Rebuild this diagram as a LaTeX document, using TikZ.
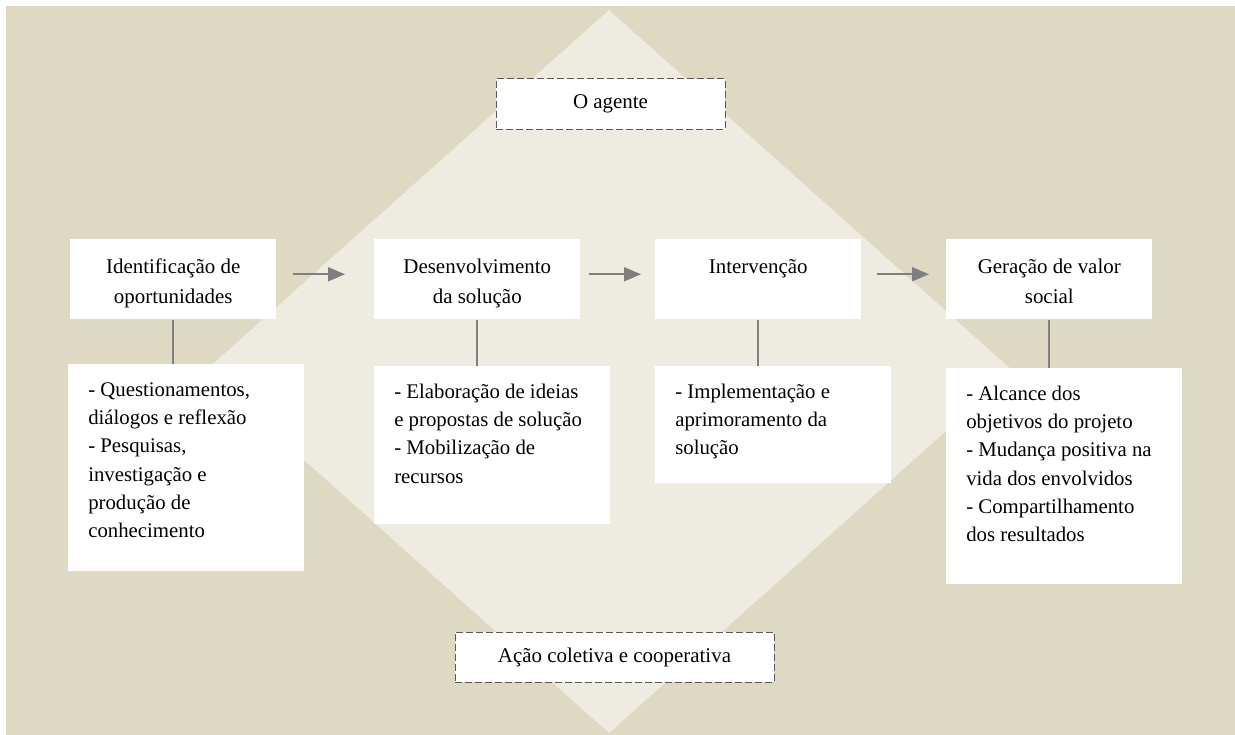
\documentclass[tikz,border=0pt]{standalone}
\usepackage{fontspec}
\setmainfont{Liberation Serif}
\usetikzlibrary{arrows.meta}

\definecolor{tanbg}{HTML}{DDD9C3}
\definecolor{tanlight}{HTML}{EEECE1}
\definecolor{linkgray}{HTML}{7F7F7F}
\definecolor{dashgray}{HTML}{595959}

\tikzset{
  stagebox/.style={fill=white, anchor=north west, inner ysep=0pt, inner xsep=7.5pt,
    text width=139.5pt, align=flush center, text height=26pt, text depth=34pt,
    font=\fontsize{15.7}{22.5}\selectfont},
  detailbox/.style={fill=white, anchor=north west, inner ysep=0pt, inner xsep=15pt,
    text width=147pt, align=flush left, text height=24pt,
    font=\fontsize{15.6}{21.25}\selectfont},
  agentbox/.style={fill=white, draw=dashgray, dash pattern=on 5pt off 2.5pt,
    line width=0.75pt, minimum height=37.5pt, font=\fontsize{15.7}{20}\selectfont},
  flowarrow/.style={draw=linkgray, line width=1.6pt, -{Triangle[length=12.75pt,width=10.5pt]}},
  linkline/.style={draw=linkgray, line width=1.3pt},
}

\begin{document}
\begin{tikzpicture}[x=0.75pt, y=-0.75pt]
    \useasboundingbox (0,0) rectangle (1235,735);
    % background and diamond
    \fill[tanbg] (6,6) rectangle (1235,735);
    \fill[tanlight] (609,10) -- (1013,371) -- (609,733) -- (205,371) -- cycle;

    % dashed labels
    \node[agentbox, minimum width=171.75pt] (agent) at (610.5,104) {O agente};
    \node[agentbox, minimum width=239.25pt] (coletiva) at (614.5,657) {Ação coletiva e cooperativa};

    % stages
    \node[stagebox] (ident) at (70,239) {Identificação de\\ oportunidades};
    \node[stagebox] (desenv) at (374,239) {Desenvolvimento\\ da solução};
    \node[stagebox] (interv) at (655,239) {Intervenção};
    \node[stagebox] (valor) at (946,239) {Geração de valor\\ social};

    % details
    \node[detailbox, text depth=131.25pt] (identd) at (68,364)
      {- Questionamentos,\\ diálogos e reflexão\\ - Pesquisas,\\ investigação e\\ produção de\\ conhecimento};
    \node[detailbox, text depth=94.5pt] (desenvd) at (374,366)
      {- Elaboração de ideias\\ e propostas de solução\\ - Mobilização de\\ recursos};
    \node[detailbox, text depth=63.75pt] (intervd) at (655,366)
      {- Implementação e\\ aprimoramento da\\ solução};
    \node[detailbox, text depth=138pt] (valord) at (946,368)
      {- Alcance dos\\ objetivos do projeto\\ - Mudança positiva na\\ vida dos envolvidos\\ - Compartilhamento\\ dos resultados};

    % arrows between stages
    \draw[flowarrow, shorten <=12pt, shorten >=21.75pt] ([yshift=3.75pt]ident.east) -- ([yshift=3.75pt]desenv.west);
    \draw[flowarrow, shorten <=6pt, shorten >=10.5pt] ([yshift=3.75pt]desenv.east) -- ([yshift=3.75pt]interv.west);
    \draw[flowarrow, shorten <=11.25pt, shorten >=12.75pt] ([yshift=3.75pt]interv.east) -- ([yshift=3.75pt]valor.west);

    % links to details
    \draw[linkline] (ident.south) -- (ident.south |- identd.north);
    \draw[linkline] (desenv.south) -- (desenv.south |- desenvd.north);
    \draw[linkline] (interv.south) -- (interv.south |- intervd.north);
    \draw[linkline] (valor.south) -- (valor.south |- valord.north);
\end{tikzpicture}
\end{document}
